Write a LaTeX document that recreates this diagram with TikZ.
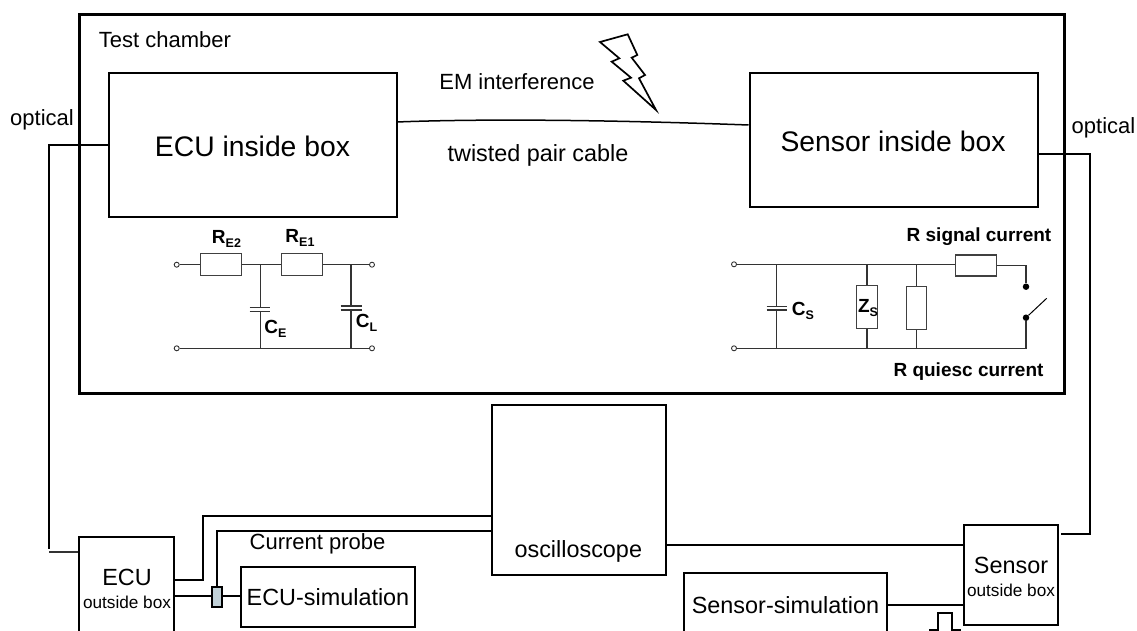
\documentclass[tikz,border=0pt]{standalone}
\usepackage{fontspec}
\setmainfont{Liberation Sans}
\usetikzlibrary{positioning}

\newcommand{\partsub}[1]{\raisebox{-3.5pt}{\fontsize{12.5}{13}\selectfont #1}}

\begin{document}
\begin{tikzpicture}[
    x=1pt,
    y=-1pt,
    line cap=butt,
    box/.style={
        rectangle,
        draw=black,
        line width=2pt,
        inner sep=0pt,
        text centered,
        align=center
    },
    res/.style={
        rectangle,
        draw=black!75,
        fill=white,
        line width=1.2pt,
        inner sep=0pt
    },
    term/.style={
        circle,
        draw=black!80,
        fill=white,
        line width=0.9pt,
        inner sep=0pt,
        minimum size=5pt
    },
    contact/.style={
        circle,
        fill=black,
        inner sep=0pt,
        minimum size=6.5pt
    },
    wire/.style={line width=2pt},
    thinwire/.style={line width=1.2pt, draw=black!80},
    plate/.style={line width=1.3pt, draw=black!80},
    txt/.style={inner sep=0pt, font=\fontsize{22}{25}\selectfont},
    bigtxt/.style={inner sep=0pt, font=\fontsize{28.3}{32}\selectfont},
    midtxt/.style={inner sep=0pt, font=\fontsize{23.4}{27}\selectfont},
    smalltxt/.style={inner sep=0pt, font=\fontsize{17.2}{20}\selectfont},
    partname/.style={inner sep=0pt, font=\bfseries\fontsize{19}{22}\selectfont},
]
    \useasboundingbox (0,0) rectangle (1137,631);
    \clip (0,0) rectangle (1137,631);

    \node (chamber) [box, line width=3pt, minimum width=985pt, minimum height=378pt] at (571.5,204) {};
    \node (ecuin) [box, minimum width=288pt, minimum height=144pt] at (252.5,145) {};
    \node (sensorin) [box, minimum width=288pt, minimum height=134pt] at (893.5,140.3) {};
    \node (scope) [box, minimum width=174pt, minimum height=170pt] at (578.5,490) {};
    \node (ecuout) [box, minimum width=95pt, minimum height=130pt] at (126.5,602) {};
    \node (ecusim) [box, minimum width=174pt, minimum height=60pt] at (328,596.5) {};
    \node (sensorout) [box, minimum width=94pt, minimum height=100pt] at (1011,575) {};
    \node (sensorsim) [box, minimum width=203pt, minimum height=100pt] at (785.5,623) {};
    \node (probe) [box, fill=cyan!25!gray!45, minimum width=10pt, minimum height=20pt, line width=1.6pt] at (217,597) {};

    \node [bigtxt] at (252.5,146.5) {ECU inside box};
    \node [bigtxt] at (893,141.5) {Sensor inside box};
    \node [txt] at (165,39.5) {Test chamber};
    \node [txt] at (517,81.7) {EM interference};
    \node [midtxt] at (538,155.7) {twisted pair cable};
    \node [txt] at (42,120) {optical};
    \node [txt] at (1103.5,128) {optical};
    \node [txt] at (317.5,544) {Current probe};
    \node [midtxt] at (578.3,551) {oscilloscope};
    \node [midtxt] at (328,597) {ECU-simulation};
    \node [midtxt] at (785.5,605) {Sensor-simulation};
    \node [midtxt] at (127,577) {ECU};
    \node [smalltxt] at (127,602.5) {outside box};
    \node [midtxt] at (1011,565) {Sensor};
    \node [smalltxt] at (1011,590.5) {outside box};

    \coordinate (cableend) at (sensorin.west |- 0,125);
    \draw [line width=1.5pt] (396.5,122) .. controls (500,118) and (640,121) .. (cableend);
    \draw [wire] (ecuin.west) -- (49,145) -- (49,549);
    \draw [thinwire] (49,552) -- (ecuout.west |- 0,552);
    \draw [wire] (174,580) -| (203,516) -- (492,516);
    \draw [wire] (probe.north) |- (492,531);
    \draw [wire] (174,596) -- (212,596);
    \draw [wire] (222,596) -- (241,596);
    \draw [wire] (665,545) -- (964,545);
    \draw [wire] (887,605) -- (964,605);
    \draw [wire] (1037.5,154.3) -- (1089.5,154.3) -- (1089.5,534) -- (1061,534);
    \draw [wire, line width=1.6pt] (929,630) -- (938,630) -- (938,613) -- (952,613) -- (952,630) -- (961,630);

    \draw [line width=1.7pt, line join=miter, miter limit=20] (600,42) -- (627.7,34.3) -- (637.3,55) -- (631.7,57.7) -- (645,75) -- (639,78.3) -- (656,110) -- (623.3,80.7) -- (631,77.7) -- (611.7,61.7) -- (619.3,58.3) -- cycle;

    % ECU side network
    \node (t1) [term] at (176.7,264.7) {};
    \node (t2) [term] at (372,264.7) {};
    \node (t3) [term] at (176.7,348.3) {};
    \node (t4) [term] at (372,348.3) {};
    \node (re2) [res, minimum width=41pt, minimum height=22pt] at (220.7,264.7) {};
    \node (re1) [res, minimum width=41pt, minimum height=22pt] at (301.7,264.7) {};
    \coordinate (je) at (260.3,264.7);
    \coordinate (jl) at (351,264.7);
    \draw [thinwire] (t1) -- (re2) -- (re1) -- (t2);
    \draw [thinwire] (t3) -- (t4);
    \draw [thinwire] (je) -- (260.3,307.3);
    \draw [thinwire] (260.3,311.3) -- (260.3,348.3);
    \draw [thinwire] (jl) -- (351,306);
    \draw [thinwire] (351,310) -- (351,348.3);
    \draw [plate] (249.7,307.3) -- (269.7,307.3);
    \draw [plate] (249.7,311.3) -- (269.7,311.3);
    \draw [plate] (340.7,306) -- (361.7,306);
    \draw [plate] (340.7,310) -- (361.7,310);
    \node [partname] at (226.5,239) {R\partsub{E2}};
    \node [partname] at (300,238) {R\partsub{E1}};
    \node [partname] at (275.5,329) {C\partsub{E}};
    \node [partname] at (366.5,323) {C\partsub{L}};

    % sensor side network
    \node (t5) [term] at (734,264.3) {};
    \node (t6) [term] at (734,348.3) {};
    \node (rsig) [res, minimum width=41pt, minimum height=21pt] at (976.2,265.5) {};
    \node (zs) [res, minimum width=20.5pt, minimum height=43pt] at (867,307.2) {};
    \node (rq) [res, minimum width=20.5pt, minimum height=43.5pt] at (916.5,308) {};
    \node (c1) [contact] at (1026,286.7) {};
    \node (c2) [contact] at (1026,317.7) {};
    \coordinate (swend) at (1046.7,298.3);
    \draw [thinwire] (t5) -- (rsig.west |- t5);
    \draw [thinwire] (rsig.east) -| (c1);
    \draw [thinwire] (t6) -- (1026,348.3) -- (c2);
    \draw [thinwire] (zs.north) -- (867,264.3);
    \draw [thinwire] (zs.south) -- (867,348.3);
    \draw [thinwire] (rq.north) -- (916.5,264.3);
    \draw [thinwire] (rq.south) -- (916.5,348.3);
    \draw [line width=1pt] (c2) -- (swend);
    \draw [thinwire] (776.7,264.3) -- (776.7,306.7);
    \draw [thinwire] (776.7,310) -- (776.7,348.3);
    \draw [plate] (766.7,306.7) -- (787.3,306.7);
    \draw [plate] (766.7,310) -- (787.3,310);
    \node [partname] at (803,311) {C\partsub{S}};
    \node [partname] at (868,308) {Z\partsub{S}};
    \node [partname] at (979,236.5) {R signal current};
    \node [partname] at (968.5,372) {R quiesc current};
\end{tikzpicture}
\end{document}
